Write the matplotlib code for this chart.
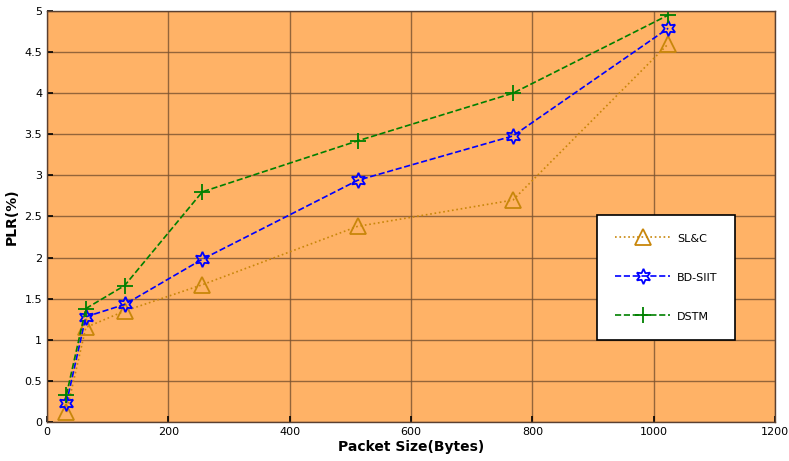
import matplotlib
matplotlib.use("Agg")
import matplotlib.pyplot as plt

packet_sizes = [32, 64, 128, 256, 512, 768, 1024]
slc = [0.12, 1.15, 1.35, 1.67, 2.38, 2.70, 4.60]
bdsiit = [0.23, 1.28, 1.43, 1.98, 2.94, 3.48, 4.79]
dstm = [0.33, 1.38, 1.66, 2.80, 3.42, 4.00, 4.95]

xticks = [0, 200, 400, 600, 800, 1000, 1200]
yticks = [0, 0.5, 1, 1.5, 2, 2.5, 3, 3.5, 4, 4.5, 5]

fig = plt.figure(figsize=(7.89, 4.61), dpi=100)
ax = fig.add_axes([47/789, 1 - 422/461, (775-47)/789, (422-11)/461])
ax.set_facecolor('#FFB266')

ax.plot(packet_sizes, slc, linestyle=':', color='#C8860A', marker='^', markersize=11,
        markerfacecolor='none', markeredgewidth=1.3, linewidth=1.2, label='SL&C')
ax.plot(packet_sizes, bdsiit, linestyle='--', color='#0000FF', marker=(6, 1, 0), markersize=11,
        markerfacecolor='none', markeredgewidth=1.3, linewidth=1.2, label='BD-SIIT')
ax.plot(packet_sizes, dstm, linestyle='--', color='#008000', marker='+', markersize=12,
        markeredgewidth=1.3, linewidth=1.2, label='DSTM')

ax.set_xlim(0, 1200)
ax.set_ylim(0, 5)
ax.set_xticks(xticks)
ax.set_yticks(yticks)
ax.set_yticklabels(['0', '0.5', '1', '1.5', '2', '2.5', '3', '3.5', '4', '4.5', '5'])
ax.grid(True, color='#7A5230', linewidth=1.0, alpha=0.8)
ax.set_axisbelow(True)
ax.tick_params(direction='in', labelsize=8, length=4, width=1.2)
for s in ax.spines.values():
    s.set_color('#5A4030')
    s.set_linewidth(1.0)

ax.set_xlabel('Packet Size(Bytes)', fontsize=10, fontweight='bold', labelpad=2)
ax.set_ylabel('PLR(%)', fontsize=10, fontweight='bold', labelpad=4)

leg = ax.legend(loc='upper left', bbox_to_anchor=((597-47)/728, (422-215)/411),
                fontsize=8, labelspacing=2.55, handlelength=5, borderpad=1.6,
                handleheight=1.0, fancybox=False, framealpha=1, edgecolor='black',
                borderaxespad=0, handletextpad=0.6)
leg.get_frame().set_linewidth(1.2)

fig.savefig('out.png', dpi=100)
